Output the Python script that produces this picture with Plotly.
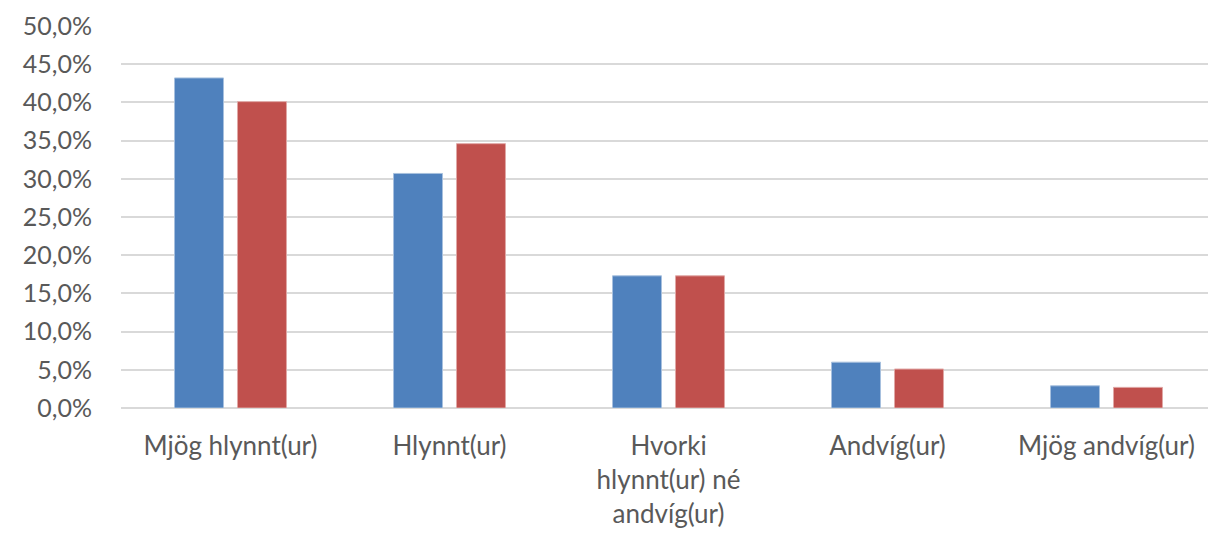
import plotly.graph_objects as go

categories = ["Mjög hlynnt(ur)", "Hlynnt(ur)", "Hvorki<br>hlynnt(ur) né<br>andvíg(ur)", "Andvíg(ur)", "Mjög andvíg(ur)"]
series_a = [0.432, 0.307, 0.173, 0.060, 0.029]
series_b = [0.401, 0.346, 0.173, 0.051, 0.027]
y_ticks = [0, 0.05, 0.10, 0.15, 0.20, 0.25, 0.30, 0.35, 0.40, 0.45, 0.50]
y_tick_labels = ["0,0%", "5,0%", "10,0%", "15,0%", "20,0%", "25,0%", "30,0%", "35,0%", "40,0%", "45,0%", "50,0%"]

fig = go.Figure()
fig.add_trace(go.Bar(x=categories, y=series_a, marker=dict(color="#4F81BD", line=dict(color="#A7C0DE", width=1))))
fig.add_trace(go.Bar(x=categories, y=series_b, marker=dict(color="#C0504D", line=dict(color="#E0A8A6", width=1))))

fig.update_layout(
    width=1208, height=533,
    margin=dict(l=113, r=0, t=18, b=133),
    paper_bgcolor="white", plot_bgcolor="white",
    showlegend=False,
    barmode="group", bargap=0.425, bargroupgap=0.222,
    font=dict(family="Lato, Calibri, sans-serif", size=25, color="#595959"),
)
fig.update_yaxes(range=[0, 0.5], tickvals=y_ticks, ticktext=y_tick_labels,
                 showgrid=True, gridcolor="#D9D9D9", gridwidth=1.5,
                 zeroline=True, zerolinecolor="#D9D9D9", zerolinewidth=1.5,
                 showline=False, ticks="", ticklabelstandoff=28, automargin=False,
                 ticklabeloverflow="allow")
fig.update_xaxes(showline=False, ticks="", ticklabelstandoff=20, tickangle=0, automargin=False,
                 ticklabeloverflow="allow", tickfont=dict(size=26))

fig.write_html("out.html")
